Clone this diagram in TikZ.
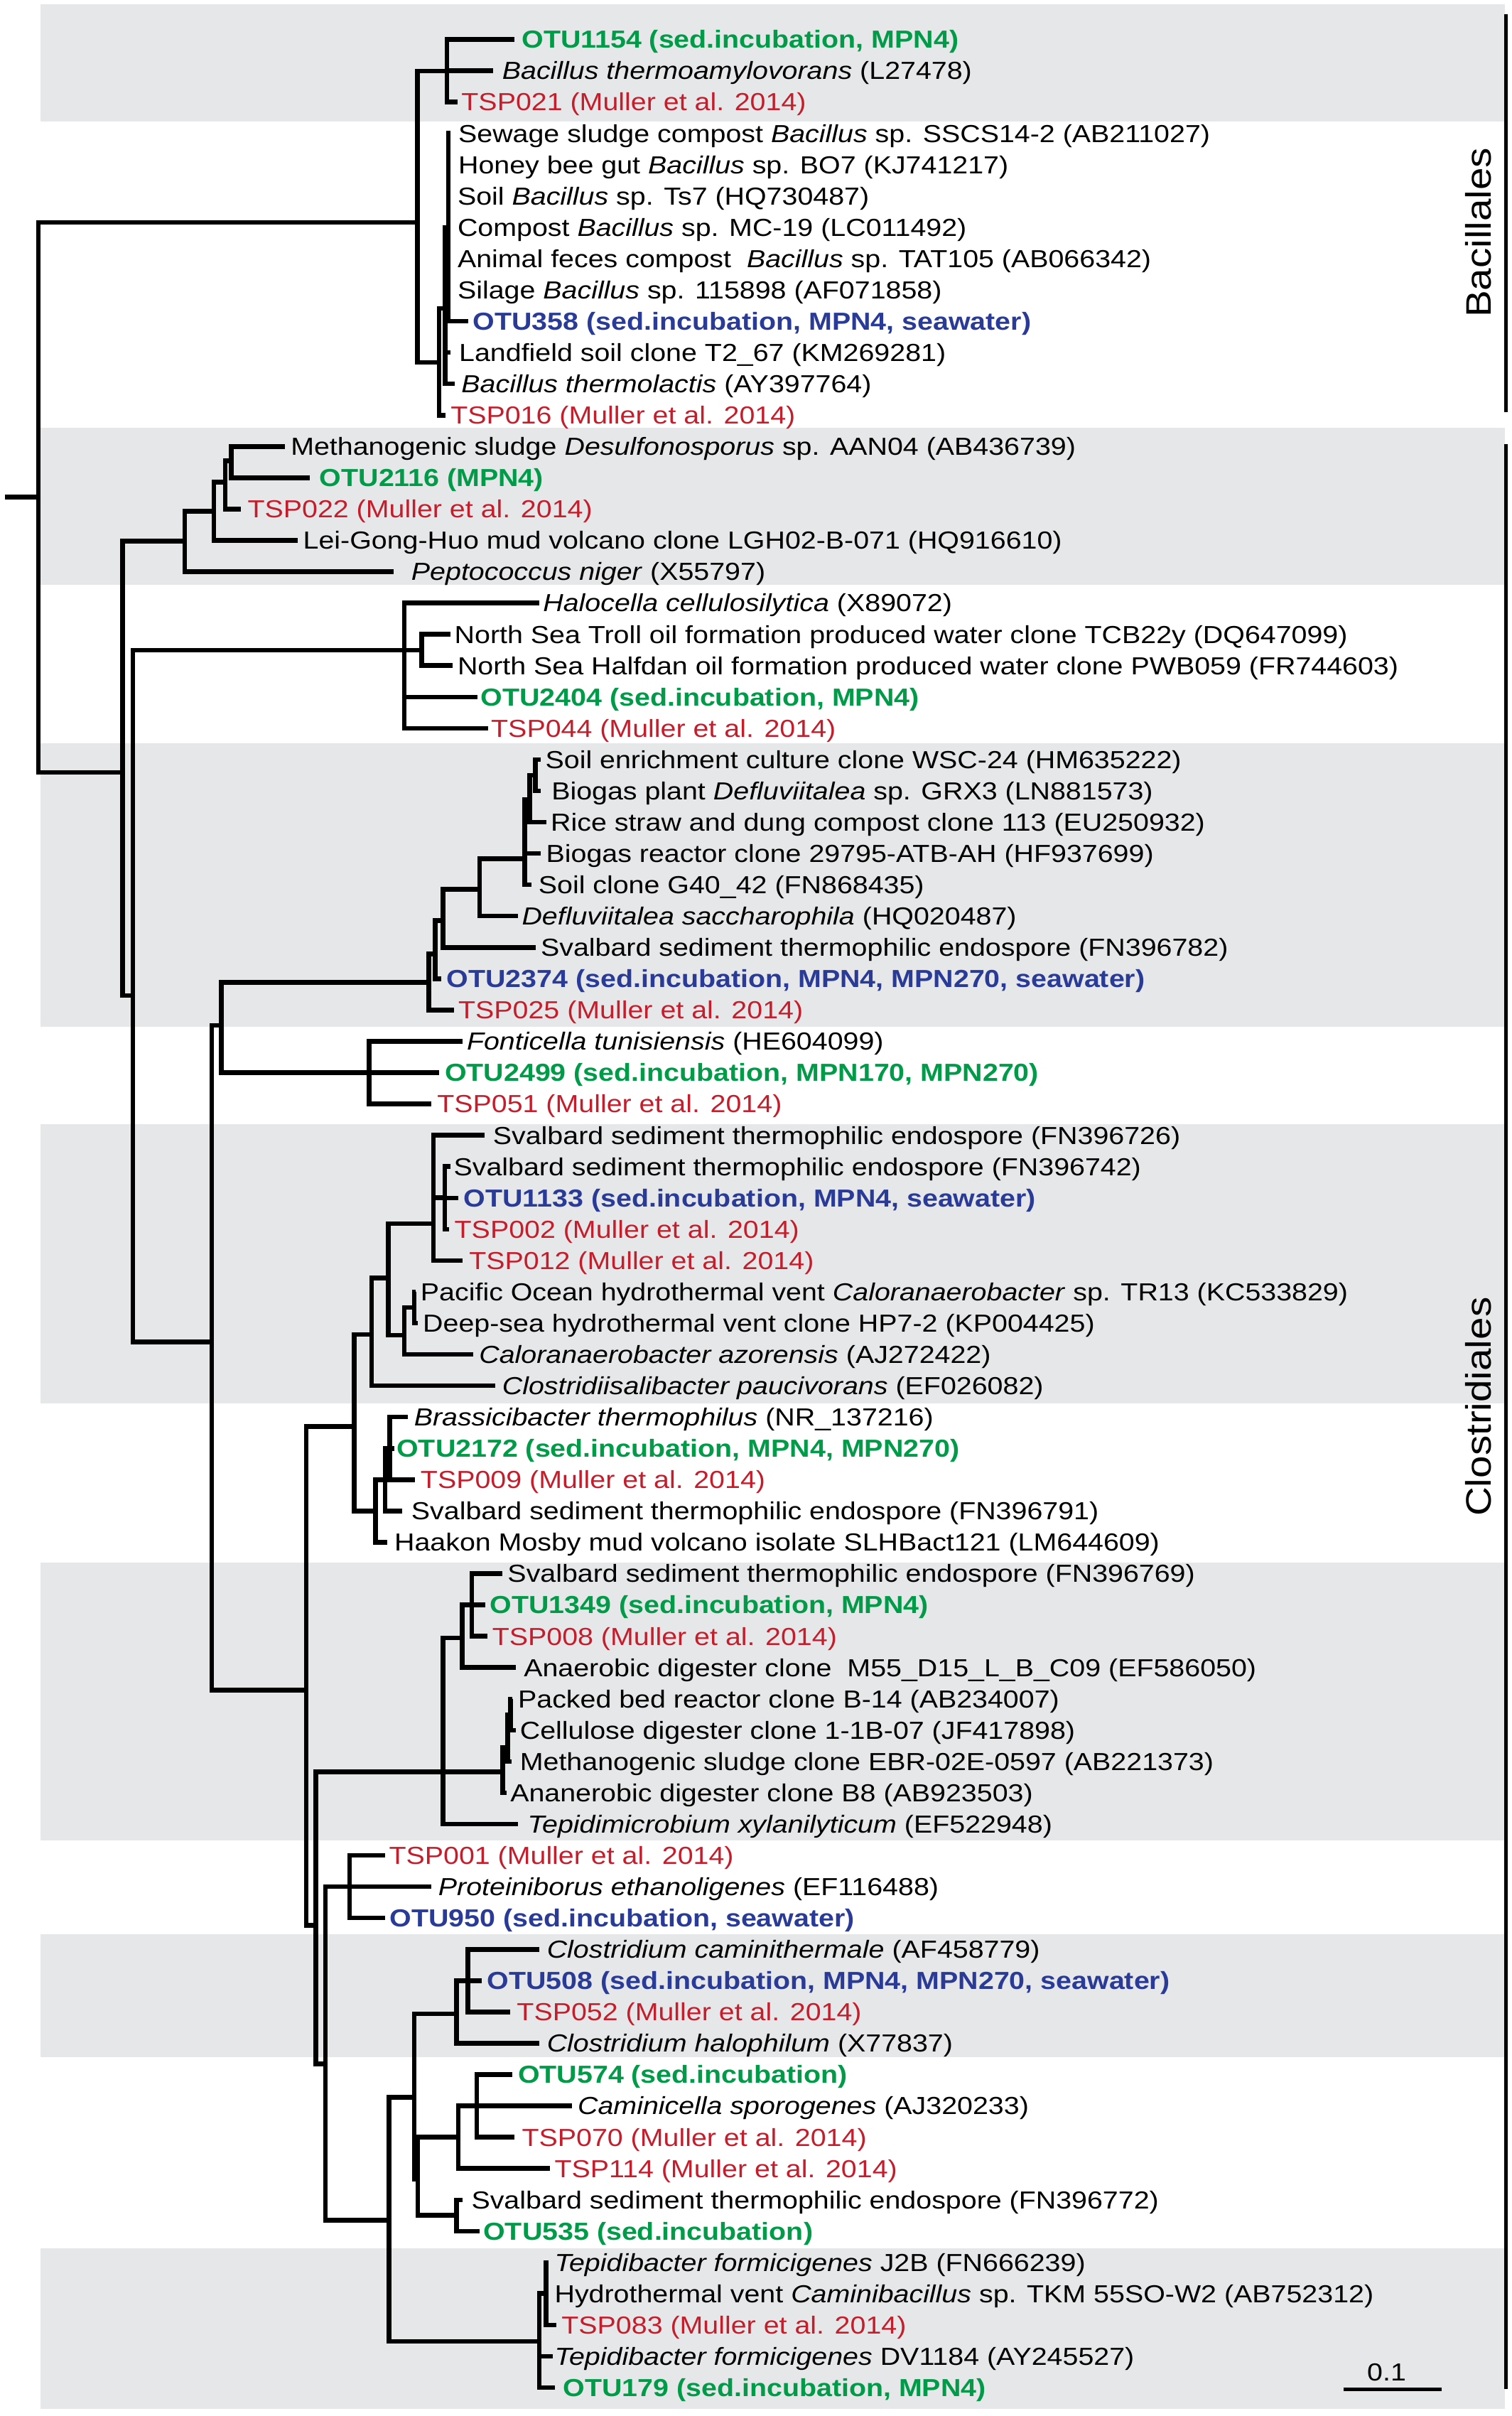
\documentclass[tikz,border=0pt]{standalone}
\usepackage{fontspec}
\setmainfont{Liberation Sans}[FakeStretch=1.135]
\definecolor{otugreen}{RGB}{0,155,72}
\definecolor{otublue}{RGB}{41,59,150}
\definecolor{tspred}{RGB}{196,30,45}
\definecolor{bandgray}{RGB}{230,231,232}
\tikzset{
  br/.style={line width=3pt, line cap=butt, line join=miter, black},
  lab/.style={anchor=base west, inner sep=0pt, outer sep=0pt, font=\fontsize{16}{18}\selectfont},
  gr/.style={text=otugreen, font=\fontsize{16}{18}\selectfont\bfseries},
  bl/.style={text=otublue, font=\fontsize{16}{18}\selectfont\bfseries},
  rd/.style={text=tspred},
  band/.style={fill=bandgray, draw=none},
  clade/.style={font=\fontsize{23}{26}\selectfont, rotate=90, inner sep=0pt},
  bracket/.style={line width=2.2pt, black},
}
\newcommand\mkleaf[5]{%
  \pgfmathsetmacro\rowy{25.6+(#1-1)*20.32}%
  \coordinate (t#1) at (#2,\rowy);%
  \node[lab,#4] (l#1) at (#3,\rowy+5.7) {#5};%
}
\newcommand\brs[2]{\foreach \c in {#2} {\draw[br] (#1) |- (\c);}}
\begin{document}
\begin{tikzpicture}[x=1pt,y=-1pt]
\useasboundingbox (0,0) rectangle (981,1568);
% grey bands
\fill[band] (26.3,2.6) rectangle (976.9,79);
\fill[band] (26.3,277.6) rectangle (976.9,379.4);
\fill[band] (26.3,482.6) rectangle (976.9,666.2);
\fill[band] (26.3,729.8) rectangle (976.9,910.7);
\fill[band] (26.3,1013.9) rectangle (976.9,1194.5);
\fill[band] (26.3,1255.2) rectangle (976.9,1335.1);
\fill[band] (26.3,1459) rectangle (976.9,1563.3);

% leaves
\mkleaf{1}{334}{338.75}{gr}{OTU1154 (sed.incubation, MPN4)}
\mkleaf{2}{320}{326}{}{\textit{Bacillus thermoamylovorans} (L27478)}
\mkleaf{3}{297}{299.5}{rd}{TSP021 (Muller et al. 2014)}
\mkleaf{4}{292.5}{297.5}{}{Sewage sludge compost \textit{Bacillus} sp. SSCS14-2 (AB211027)}
\mkleaf{5}{292.5}{297.5}{}{Honey bee gut \textit{Bacillus} sp. BO7 (KJ741217)}
\mkleaf{6}{292.5}{297}{}{Soil \textit{Bacillus} sp. Ts7 (HQ730487)}
\mkleaf{7}{292.5}{297}{}{Compost \textit{Bacillus} sp. MC-19 (LC011492)}
\mkleaf{8}{292.5}{297}{}{Animal feces compost\ \ \textit{Bacillus} sp. TAT105 (AB066342)}
\mkleaf{9}{292.5}{297}{}{Silage \textit{Bacillus} sp. 115898 (AF071858)}
\mkleaf{10}{304}{307}{bl}{OTU358 (sed.incubation, MPN4, seawater)}
\mkleaf{11}{292.5}{298}{}{Landfield soil clone T2\_67 (KM269281)}
\mkleaf{12}{295}{299.5}{}{\textit{Bacillus thermolactis} (AY397764)}
\mkleaf{13}{289}{292.5}{rd}{TSP016 (Muller et al. 2014)}
\mkleaf{14}{185}{188.75}{}{Methanogenic sludge \textit{Desulfonosporus} sp. AAN04 (AB436739)}
\mkleaf{15}{201.25}{207.5}{gr}{OTU2116 (MPN4)}
\mkleaf{16}{156.25}{160.75}{rd}{TSP022 (Muller et al. 2014)}
\mkleaf{17}{193}{196.75}{}{Lei-Gong-Huo mud volcano clone LGH02-B-071 (HQ916610)}
\mkleaf{18}{255.5}{267}{}{\textit{Peptococcus niger} (X55797)}
\mkleaf{19}{350}{352.5}{}{\textit{Halocella cellulosilytica} (X89072)}
\mkleaf{20}{292.5}{295}{}{North Sea Troll oil formation produced water clone TCB22y (DQ647099)}
\mkleaf{21}{293.75}{297}{}{North Sea Halfdan oil formation produced water clone PWB059 (FR744603)}
\mkleaf{22}{310}{312}{gr}{OTU2404 (sed.incubation, MPN4)}
\mkleaf{23}{317}{318.75}{rd}{TSP044 (Muller et al. 2014)}
\mkleaf{24}{351}{354}{}{Soil enrichment culture clone WSC-24 (HM635222)}
\mkleaf{25}{351}{358}{}{Biogas plant \textit{Defluviitalea} sp. GRX3 (LN881573)}
\mkleaf{26}{354.5}{357.5}{}{Rice straw and dung compost clone 113 (EU250932)}
\mkleaf{27}{351}{354.5}{}{Biogas reactor clone 29795-ATB-AH (HF937699)}
\mkleaf{28}{345}{349.5}{}{Soil clone G40\_42 (FN868435)}
\mkleaf{29}{336.25}{338.75}{}{\textit{Defluviitalea saccharophila} (HQ020487)}
\mkleaf{30}{347.5}{351}{}{Svalbard sediment thermophilic endospore (FN396782)}
\mkleaf{31}{286.25}{290}{bl}{OTU2374 (sed.incubation, MPN4, MPN270, seawater)}
\mkleaf{32}{294.5}{297.5}{rd}{TSP025 (Muller et al. 2014)}
\mkleaf{33}{300}{303}{}{\textit{Fonticella tunisiensis} (HE604099)}
\mkleaf{34}{285}{288.75}{gr}{OTU2499 (sed.incubation, MPN170, MPN270)}
\mkleaf{35}{280}{283.75}{rd}{TSP051 (Muller et al. 2014)}
\mkleaf{36}{314.5}{320}{}{Svalbard sediment thermophilic endospore (FN396726)}
\mkleaf{37}{292.5}{294.5}{}{Svalbard sediment thermophilic endospore (FN396742)}
\mkleaf{38}{297.5}{301}{bl}{OTU1133 (sed.incubation, MPN4, seawater)}
\mkleaf{39}{291.25}{295}{rd}{TSP002 (Muller et al. 2014)}
\mkleaf{40}{300}{304.5}{rd}{TSP012 (Muller et al. 2014)}
\mkleaf{41}{270}{273}{}{Pacific Ocean hydrothermal vent \textit{Caloranaerobacter} sp. TR13 (KC533829)}
\mkleaf{42}{271.25}{274.5}{}{Deep-sea hydrothermal vent clone HP7-2 (KP004425)}
\mkleaf{43}{307}{311}{}{\textit{Caloranaerobacter azorensis} (AJ272422)}
\mkleaf{44}{321.25}{326}{}{\textit{Clostridiisalibacter paucivorans} (EF026082)}
\mkleaf{45}{264.5}{268.75}{}{\textit{Brassicibacter thermophilus} (NR\_137216)}
\mkleaf{46}{256}{257.5}{gr}{OTU2172 (sed.incubation, MPN4, MPN270)}
\mkleaf{47}{269.5}{273}{rd}{TSP009 (Muller et al. 2014)}
\mkleaf{48}{261.25}{267}{}{Svalbard sediment thermophilic endospore (FN396791)}
\mkleaf{49}{251.25}{256}{}{Haakon Mosby mud volcano isolate SLHBact121 (LM644609)}
\mkleaf{50}{326.25}{329.5}{}{Svalbard sediment thermophilic endospore (FN396769)}
\mkleaf{51}{315}{318}{gr}{OTU1349 (sed.incubation, MPN4)}
\mkleaf{52}{316.25}{319.5}{rd}{TSP008 (Muller et al. 2014)}
\mkleaf{53}{335}{340}{}{Anaerobic digester clone\ \ M55\_D15\_L\_B\_C09 (EF586050)}
\mkleaf{54}{332.5}{336.25}{}{Packed bed reactor clone B-14 (AB234007)}
\mkleaf{55}{335}{337.5}{}{Cellulose digester clone 1-1B-07 (JF417898)}
\mkleaf{56}{332}{337.5}{}{Methanogenic sludge clone EBR-02E-0597 (AB221373)}
\mkleaf{57}{328.75}{331.25}{}{Ananerobic digester clone B8 (AB923503)}
\mkleaf{58}{336.25}{342.5}{}{\textit{Tepidimicrobium xylanilyticum} (EF522948)}
\mkleaf{59}{250}{252.5}{rd}{TSP001 (Muller et al. 2014)}
\mkleaf{60}{280}{284.5}{}{\textit{Proteiniborus ethanoligenes} (EF116488)}
\mkleaf{61}{250}{253}{bl}{OTU950 (sed.incubation, seawater)}
\mkleaf{62}{350}{355}{}{\textit{Clostridium caminithermale} (AF458779)}
\mkleaf{63}{312.5}{316.25}{bl}{OTU508 (sed.incubation, MPN4, MPN270, seawater)}
\mkleaf{64}{331.25}{335.5}{rd}{TSP052 (Muller et al. 2014)}
\mkleaf{65}{350}{355}{}{\textit{Clostridium halophilum} (X77837)}
\mkleaf{66}{332.5}{336.25}{gr}{OTU574 (sed.incubation)}
\mkleaf{67}{371.25}{375}{}{\textit{Caminicella sporogenes} (AJ320233)}
\mkleaf{68}{333.75}{338.75}{rd}{TSP070 (Muller et al. 2014)}
\mkleaf{69}{357}{360}{rd}{TSP114 (Muller et al. 2014)}
\mkleaf{70}{300}{306}{}{Svalbard sediment thermophilic endospore (FN396772)}
\mkleaf{71}{311.25}{313.75}{gr}{OTU535 (sed.incubation)}
\mkleaf{72}{356}{360}{}{\textit{Tepidibacter formicigenes} J2B (FN666239)}
\mkleaf{73}{355.5}{360}{}{Hydrothermal vent \textit{Caminibacillus} sp. TKM 55SO-W2 (AB752312)}
\mkleaf{74}{361.25}{364.5}{rd}{TSP083 (Muller et al. 2014)}
\mkleaf{75}{358.75}{360}{}{\textit{Tepidibacter formicigenes} DV1184 (AY245527)}
\mkleaf{76}{360}{365.5}{gr}{OTU179 (sed.incubation, MPN4)}

% internal nodes
\coordinate (rootS) at (3,322.6);
\coordinate (R0) at (25,322.6);
\coordinate (Nbac) at (271,144.3);
\coordinate (Ntop) at (290,46.2);
\coordinate (Nlow) at (285,235.2);
\coordinate (Na) at (289,200.2);
\coordinate (Nb) at (291,147.6);
\coordinate (C1) at (79.5,501.2);
\coordinate (P0) at (120,351.2);
\coordinate (P1) at (138.75,331.8);
\coordinate (P2) at (146.25,312.9);
\coordinate (P3) at (150,299);
\coordinate (C2) at (86.25,646);
\coordinate (H0) at (262.5,421.9);
\coordinate (H1) at (273.75,421.9);
\coordinate (C3) at (137.5,871);
\coordinate (C4) at (143.75,665.4);
\coordinate (Fon) at (239.5,696.1);
\coordinate (D0) at (278.25,637.5);
\coordinate (D1n) at (282.5,619.1);
\coordinate (D2n) at (287.5,597.4);
\coordinate (D3n) at (311.25,577.1);
\coordinate (D4n) at (340.5,557.4);
\coordinate (D5n) at (343.75,519);
\coordinate (D6n) at (347.5,503.2);
\coordinate (C5) at (198.75,1096.9);
\coordinate (F0) at (230,925.7);
\coordinate (F1) at (241.25,866.1);
\coordinate (E0) at (252,829.5);
\coordinate (E1) at (281.25,794.2);
\coordinate (E2) at (288.75,777.4);
\coordinate (E3) at (262.5,866.6);
\coordinate (E4) at (268.75,848.5);
\coordinate (G1) at (243.75,980.6);
\coordinate (G2) at (250,960.3);
\coordinate (G3) at (253,940);
\coordinate (K) at (205,1249.6);
\coordinate (L1) at (287.5,1149.9);
\coordinate (L2) at (300,1063);
\coordinate (L3) at (306.25,1041.6);
\coordinate (L4) at (326.25,1149.9);
\coordinate (L5) at (329.5,1134);
\coordinate (L6) at (331.25,1113);
\coordinate (M) at (211.25,1339.4);
\coordinate (Nn) at (227,1224.4);
\coordinate (O) at (252.5,1440.9);
\coordinate (Q) at (268.75,1361.1);
\coordinate (R) at (296.25,1306.9);
\coordinate (R2) at (303.75,1285.4);
\coordinate (S) at (271.25,1414.2);
\coordinate (T) at (297.5,1387);
\coordinate (T2) at (309.5,1366.6);
\coordinate (U) at (296.25,1437.7);
\coordinate (V) at (350,1519.5);
\coordinate (V2) at (354.5,1488.5);

% branches
\draw[br] (rootS) -- (R0);
\brs{R0}{Nbac,C1}
\brs{Nbac}{Ntop,Nlow}
\brs{Ntop}{t1,t2,t3}
\brs{Nlow}{Na,t13}
\brs{Na}{Nb,t11,t12}
\brs{Nb}{t4,t5,t6,t7,t8,t9,t10}
\brs{C1}{P0,C2}
\brs{P0}{P1,t18}
\brs{P1}{P2,t17}
\brs{P2}{P3,t16}
\brs{P3}{t14,t15}
\brs{C2}{H0,C3}
\brs{H0}{t19,H1,t22,t23}
\brs{H1}{t20,t21}
\brs{C3}{C4,C5}
\brs{C4}{D0,Fon}
\brs{Fon}{t33,t34,t35}
\brs{D0}{D1n,t32}
\brs{D1n}{D2n,t31}
\brs{D2n}{D3n,t30}
\brs{D3n}{D4n,t29}
\brs{D4n}{D5n,t27,t28}
\brs{D5n}{D6n,t26}
\brs{D6n}{t24,t25}
\brs{C5}{F0,K}
\brs{F0}{F1,G1}
\brs{F1}{E0,t44}
\brs{E0}{E1,E3}
\brs{E1}{t36,E2,t40}
\brs{E2}{t37,t38,t39}
\brs{E3}{E4,t43}
\brs{E4}{t41,t42}
\brs{G1}{G2,t49}
\brs{G2}{G3,t48}
\brs{G3}{t45,t46,t47}
\brs{K}{L1,M}
\brs{L1}{L2,L4,t58}
\brs{L2}{L3,t53}
\brs{L3}{t50,t51,t52}
\brs{L4}{L5,t57}
\brs{L5}{L6,t56}
\brs{L6}{t54,t55}
\brs{M}{Nn,O}
\brs{Nn}{t59,t60,t61}
\brs{O}{Q,V}
\brs{Q}{R,S}
\brs{R}{R2,t65}
\brs{R2}{t62,t63,t64}
\brs{S}{T,U}
\brs{T}{T2,t69}
\brs{T2}{t66,t67,t68}
\brs{U}{t70,t71}
\brs{V}{V2,t75,t76}
\brs{V2}{t72,t73,t74}

% clade brackets
\coordinate (bb1) at (977.6,9.2);
\coordinate (bb2) at (977.6,267.7);
\coordinate (cb1) at (977.6,288.2);
\coordinate (cb2) at (977.6,1550.5);
\draw[bracket] (bb1) -- (bb2);
\draw[bracket] (cb1) -- (cb2);
\node[clade] (bac) at (959.5,151) {Bacillales};
\node[clade] (clo) at (959.5,913) {Clostridiales};

% scale bar
\coordinate (sb1) at (872.1,1550.6);
\coordinate (sb2) at (935.9,1550.6);
\draw[line width=2.3pt] (sb1) -- (sb2);
\node[font=\fontsize{16}{18}\selectfont, inner sep=0pt] (sbl) at (900,1539.5) {0.1};
\end{tikzpicture}
\end{document}
